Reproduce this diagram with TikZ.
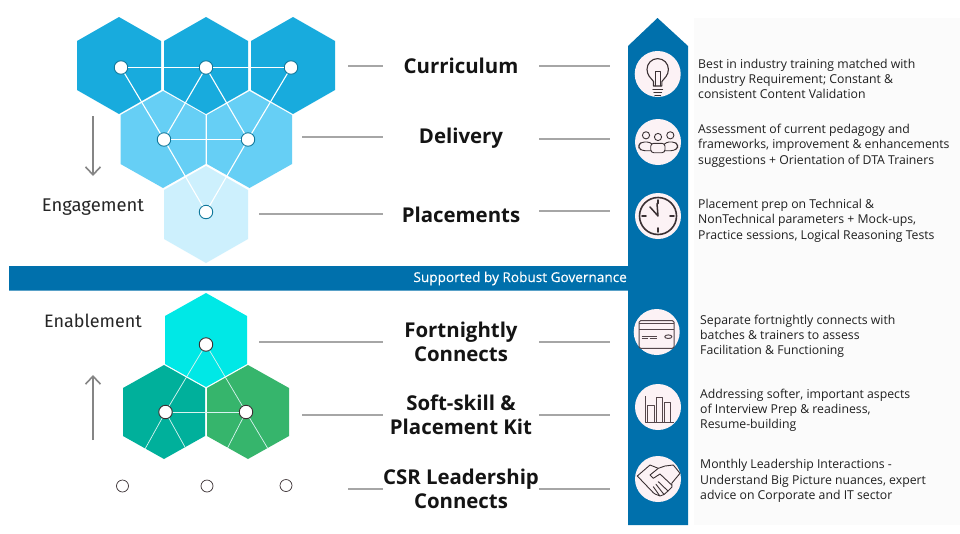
\documentclass[tikz,border=0pt]{standalone}
\usepackage{fontspec}
\setmainfont{Open Sans}
\newfontfamily\headfont{Fira Sans}
\newfontfamily\govfont[FakeBold=0.35]{Open Sans}
\usetikzlibrary{arrows.meta}
\definecolor{hexA}{HTML}{18ABDD}
\definecolor{hexB}{HTML}{66CFF5}
\definecolor{hexC}{HTML}{CDF0FD}
\definecolor{hexD}{HTML}{00E8E6}
\definecolor{hexE}{HTML}{00B09B}
\definecolor{hexF}{HTML}{36B56C}
\definecolor{barblue}{HTML}{0070AC}
\definecolor{iconbg}{HTML}{FCF2F5}
\definecolor{panel}{HTML}{FBFBFB}
\definecolor{icondark}{HTML}{3A3033}
\definecolor{iconline}{HTML}{54464B}
\newcommand{\hexa}[4]{% cx cy halfwidth colour
  \fill[#4] (#1,#2-48.5) -- (#1+#3,#2-24.5) -- (#1+#3,#2+24.5) -- (#1,#2+48.5) -- (#1-#3,#2+24.5) -- (#1-#3,#2-24.5) -- cycle;}
\newcommand{\hexb}[4]{% cx cy halfwidth colour
  \fill[#4] (#1,#2-47) -- (#1+#3,#2-24) -- (#1+#3,#2+24) -- (#1,#2+47) -- (#1-#3,#2+24) -- (#1-#3,#2-24) -- cycle;}
\tikzset{
  x=1pt,y=-1pt,
  dotA/.style={circle,draw=#1,fill=white,line width=0.9pt,minimum size=13.5pt,inner sep=0pt},
  whiteA/.style={draw=white,line width=1.1pt},
  whiteB/.style={draw=white!85!hexE,line width=0.7pt},
  lead/.style={draw=black!35,line width=1.5pt},
  badge/.style={circle,fill=iconbg,minimum size=46pt,inner sep=0pt},
  head/.style={font=\bfseries\fontsize{20.4}{24}\selectfont,align=center,text=black!92},
  side/.style={font=\headfont\fontsize{18.4}{22}\selectfont,text=black!85},
  body/.style={font=\fontsize{12.25}{15.2}\selectfont,align=left,anchor=west,inner sep=0pt,text=black!88},
  trend/.style={draw=black!48,line width=2pt,-{Straight Barb[length=8pt,width=15pt,line width=1.6pt]}},
  ic/.style={draw=icondark,line width=1.1pt,line join=round,line cap=round},
  il/.style={draw=iconline,line width=1pt,line join=round},
}
\begin{document}
\begin{tikzpicture}
\useasboundingbox (0,0) rectangle (960,533);
\fill[white] (0,0) rectangle (960,533);
\fill[panel] (694,18) rectangle (960,525);
% hexagons, upper
\hexa{119}{65.5}{42}{hexA}
\hexa{206}{65.5}{42}{hexA}
\hexa{293}{65.5}{42}{hexA}
\hexa{163}{139.5}{42.5}{hexB}
\hexa{249.5}{139.5}{42.5}{hexB}
\hexa{206}{214.5}{42}{hexC}
% hexagons, lower
\hexb{206}{340}{41}{hexD}
\hexb{164}{412}{41}{hexE}
\hexb{248}{412}{41}{hexF}
% circles
\node[dotA=hexA!70!black] (a1) at (121,67.5) {};
\node[dotA=hexA!70!black] (a2) at (206,67.5) {};
\node[dotA=hexA!70!black] (a3) at (291,67.5) {};
\node[dotA=hexA!70!black] (b1) at (164,139.5) {};
\node[dotA=hexA!70!black] (b2) at (248,139.5) {};
\node[dotA=hexA!70!black] (c1) at (206,212) {};
\draw[whiteA] (a1)--(a2);
\draw[whiteA] (a2)--(a3);
\draw[whiteA] (a1)--(b1);
\draw[whiteA] (a2)--(b1);
\draw[whiteA] (a2)--(b2);
\draw[whiteA] (a3)--(b2);
\draw[whiteA] (b1)--(b2);
\draw[whiteA] (b1)--(c1);
\draw[whiteA] (b2)--(c1);
\node[dotA=icondark] (d1) at (206,344.5) {};
\node[dotA=icondark] (e1) at (165.5,412) {};
\node[dotA=icondark] (e2) at (246,412) {};
\coordinate (f1) at (145,449);
\coordinate (f2) at (185.5,448);
\coordinate (f3) at (227.5,448);
\coordinate (f4) at (267.5,448);
\draw[whiteB] (d1)--(e1);
\draw[whiteB] (d1)--(e2);
\draw[whiteB] (e1)--(e2);
\draw[whiteB] (e1)--(f1);
\draw[whiteB] (e1)--(f2);
\draw[whiteB] (e2)--(f3);
\draw[whiteB] (e2)--(f4);
\node[dotA=icondark,line width=0.7pt,minimum size=12pt] (g1) at (122.5,486) {};
\node[dotA=icondark,line width=0.7pt,minimum size=12pt] (g2) at (207,486) {};
\node[dotA=icondark,line width=0.7pt,minimum size=12pt] (g3) at (286,485.5) {};
% side labels and arrows
\node[side] (eng) at (93,207.5) {Engagement};
\node[side,font=\headfont\fontsize{18}{22}\selectfont] (ena) at (93,321) {Enablement};
\coordinate (t1) at (93,116); \coordinate (t2) at (93,176);
\coordinate (t3) at (93,440); \coordinate (t4) at (93,375);
\draw[trend] (t1)--(t2);
\draw[trend] (t3)--(t4);
% blue arrow and bar
\fill[barblue] (657.5,18) -- (688,46) -- (688,525) -- (628,525) -- (628,290.5) -- (9,290.5) -- (9,266) -- (628,266) -- (628,46) -- cycle;
\node[font=\govfont\fontsize{13.6}{16}\selectfont,text=white,anchor=east,inner sep=0pt] (gov) at (627,278.5) {Supported by Robust Governance};
% centre labels
\node[head] (h1) at (461,65.5) {Curriculum};
\node[head] (h2) at (461,138.5) {Delivery};
\node[head] (h3) at (461,214.5) {Placements};
\node[head] (h4) at (461,342) {Fortnightly\\Connects};
\node[head] (h5) at (461,415) {Soft-skill \&\\Placement Kit};
\node[head] (h6) at (461,489) {CSR Leadership\\Connects};
% leader lines
\foreach \n/\xa/\ya/\yb in {1/348/66/66,2/302/137/139,3/259/214/211,4/259/342/342,5/302/415/415,6/348/489/489}{
  \coordinate (la\n) at (\xa,\ya);
  \coordinate (lb\n) at (383,\ya);
  \coordinate (lc\n) at (539,\yb);
  \coordinate (ld\n) at (610,\yb);
  \draw[lead] (la\n)--(lb\n);
  \draw[lead] (lc\n)--(ld\n);
}
% badges
\node[badge] (p1) at (657.7,74) {};
\node[badge] (p2) at (658,142) {};
\node[badge] (p3) at (658,216) {};
\node[badge] (p4) at (656.7,332) {};
\node[badge] (p5) at (658,407) {};
\node[badge] (p6) at (658,479) {};
% bulb
\draw[ic] (653.5,86) -- (653.5,81.5) .. controls (651,78) and (647,75.5) .. (647,69.3) arc[start angle=180,end angle=360,radius=10.7] .. controls (668.4,75.5) and (664.4,78) .. (661.9,81.5) -- (661.9,86) -- cycle;
\draw[ic,line width=0.9pt] (655.8,86) -- (655.8,71) -- (660,71) -- (660,86);
\draw[ic] (653,89.5) -- (662.5,89.5);
\draw[ic] (654,92.5) -- (661.5,92.5);
\draw[ic] (655,95.3) -- (660.5,95.3);
% people
\draw[ic,line width=0.9pt] (646,135.3) circle[radius=3.6] (658,137) circle[radius=3.6] (670.3,135.3) circle[radius=3.6];
\draw[ic,line width=0.9pt,rounded corners=3pt] (651,150.7) -- (642,150.7) -- (638.7,148) -- (638.7,145) -- (641.5,142) -- (650,142) -- (652,144);
\draw[ic,line width=0.9pt,rounded corners=3pt] (664.5,150.7) -- (674,150.7) -- (677.7,148) -- (677.7,145) -- (675,142) -- (666,142) -- (664.5,144);
\draw[ic,line width=0.9pt,rounded corners=3pt] (650.7,143.3) rectangle (665,152.7);
% clock
\draw[ic,line width=1.6pt] (658,216) circle[radius=18.5];
\draw[ic,line width=1.6pt] (658,200) -- (658,203.5) (658,232) -- (658,228) (642,216) -- (646,216) (674,216) -- (670,216);
\draw[ic,line width=1.5pt] (657,203.5) -- (658,216) -- (650,207);
% card
\draw[il,rounded corners=1.5pt] (639,320.7) rectangle (674,348.3);
\draw[il] (639,323.3) -- (674,323.3) (639,329.3) -- (674,329.3);
\draw[il] (641.7,336) -- (656.7,336) (641.7,338.5) -- (647.5,338.5) (649.5,338.5) -- (656.7,338.5);
\draw[il] (668.3,336.7) ellipse[x radius=3.6,y radius=1.8];
% chart
\draw[il] (645,396) -- (645,422.7) -- (673.5,422.7);
\draw[il] (647.7,422.7) -- (647.7,405) -- (654.3,405) -- (654.3,422.7);
\draw[il] (656,422.7) -- (656,397.3) -- (662.7,397.3) -- (662.7,422.7);
\draw[il] (664.3,422.7) -- (664.3,402.7) -- (670.7,402.7) -- (670.7,422.7);
% handshake
\draw[ic,line width=0.9pt] (653.3,492.7) -- (637.3,476) -- (650,465) -- (658.3,468.3) -- (665,466) -- (673.3,465) -- (680,473.3) -- (671.7,483.3) -- (672,487) -- (668,491) -- (664,494.5) -- (660,496) -- (655,494) -- cycle;
\draw[ic,line width=0.9pt] (658.3,468.3) -- (650,475) -- (653.3,478.3) -- (660,474) -- (671.7,485);
\draw[ic,line width=0.9pt] (658.3,481.7) -- (668,491) (656,484.3) -- (664,494.5) (653.3,486.7) -- (659.5,495.5);
% texts
\node[body] (t-a) at (698,78.7) {Best in industry training matched with\\Industry Requirement; Constant \&\\consistent Content Validation};
\node[body] (t-b) at (698,145.7) {Assessment of current pedagogy and\\frameworks, improvement \& enhancements\\suggestions + Orientation of DTA Trainers};
\node[body] (t-c) at (698,220.7) {Placement prep on Technical \&\\NonTechnical parameters + Mock-ups,\\Practice sessions, Logical Reasoning Tests};
\node[body] (t-d) at (700,336.2) {Separate fortnightly connects with\\batches \& trainers to assess\\Facilitation \& Functioning};
\node[body] (t-e) at (700,410.2) {Addressing softer, important aspects\\of Interview Prep \& readiness,\\Resume-building};
\node[body] (t-f) at (700,481) {Monthly Leadership Interactions -\\Understand Big Picture nuances, expert\\advice on Corporate and IT sector};
\end{tikzpicture}
\end{document}
